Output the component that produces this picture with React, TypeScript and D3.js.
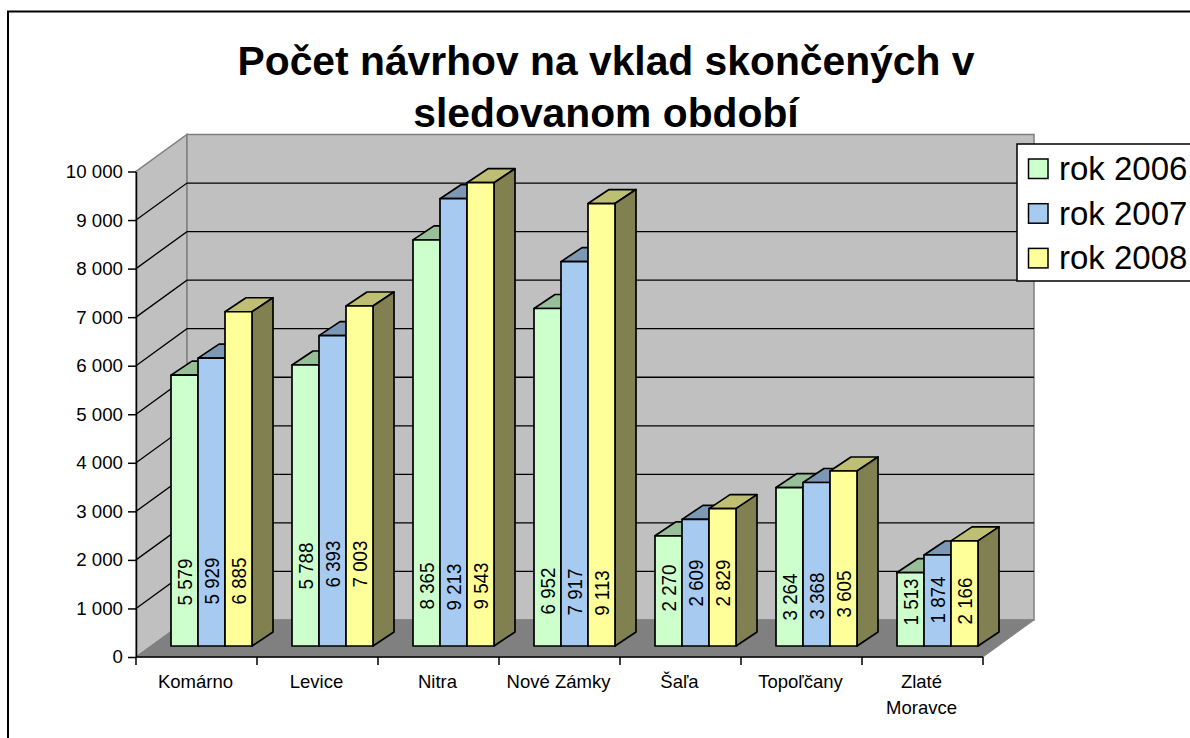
import { useEffect, useRef } from "react";
import * as d3 from "d3";

const categories = ["Komárno", "Levice", "Nitra", "Nové Zámky", "Šaľa", "Topoľčany", "Zlaté Moravce"];
const seriesNames = ["rok 2006", "rok 2007", "rok 2008"];
const rok2006 = [5579, 5788, 8365, 6952, 2270, 3264, 1513];
const rok2007 = [5929, 6393, 9213, 7917, 2609, 3368, 1874];
const rok2008 = [6885, 7003, 9543, 9113, 2829, 3605, 2166];
const seriesValues = [rok2006, rok2007, rok2008];
const yTicks = [0, 1000, 2000, 3000, 4000, 5000, 6000, 7000, 8000, 9000, 10000];
const titleLines = ["Počet návrhov na vklad skončených v", "sledovanom období"];

// the labels in the original were not centred in the bars, so their height above the bar foot is kept here
const labelLift = [
    [64, 65, 65],
    [80, 82, 82],
    [60, 59, 60],
    [55, 54, 53],
    [58, 63, 63],
    [49, 50, 52],
    [44, 46, 45],
];

const frontColors = ["#CCFFCC", "#A6CAF0", "#FFFF99"];
const topColors = ["#99BF99", "#7D98B4", "#BFBF73"];
const sideColors = ["#668066", "#536578", "#808050"];

const FONT = "'Liberation Sans', Arial, sans-serif";
const width = 1190;
const height = 738;

const left = 136;
const right = 983;
const zero = 657;
const top = 171.5;
const wallDx = 51;
const wallDy = -37;
// bars stand 15/-11 behind the front edge and are 21/-14 deep
const barDx = 15;
const barDy = -11;
const depthX = 21;
const depthY = -14;

const pts = (list: number[][]) => list.map((p) => p.join(",")).join(" ");

const App = () => {
    const svgRef = useRef<SVGSVGElement>(null);

    useEffect(() => {
        const svg = d3.select(svgRef.current);
        svg.selectAll("*").remove();

        const x = d3.scaleBand<string>().domain(categories).range([left, right]);
        const inner = d3.scaleBand<string>().domain(seriesNames).range([20, 101]);
        const y = d3.scaleLinear().domain([0, 10000]).range([zero, top]);
        const h = (v: number) => y(0) - y(v);

        const locale = d3.formatLocale({ decimal: ",", thousands: " ", grouping: [3], currency: ["", ""] });
        const fmt = locale.format(",d");

        // chart frame, runs off the picture at right and bottom
        svg.append("rect")
            .attr("x", 8)
            .attr("y", 11.5)
            .attr("width", width + 20)
            .attr("height", height + 20)
            .attr("fill", "#fff")
            .attr("stroke", "#000")
            .attr("stroke-width", 2);

        // title
        svg.append("g")
            .selectAll("text")
            .data(titleLines)
            .join("text")
            .attr("x", 606)
            .attr("y", (d, i) => 75 + i * 51.5)
            .attr("text-anchor", "middle")
            .style("font-family", FONT)
            .style("font-weight", "bold")
            .style("font-size", "40.8px")
            .text((d) => d);

        // walls and floor
        svg.append("polygon")
            .attr("points", pts([[left, zero], [left + wallDx, zero + wallDy], [left + wallDx, top + wallDy], [left, top]]))
            .attr("fill", "#C0C0C0")
            .attr("stroke", "#808080")
            .attr("stroke-width", 1.5);
        svg.append("polygon")
            .attr("points", pts([[left + wallDx, zero + wallDy], [right + wallDx, zero + wallDy], [right + wallDx, top + wallDy], [left + wallDx, top + wallDy]]))
            .attr("fill", "#C0C0C0")
            .attr("stroke", "#808080")
            .attr("stroke-width", 1.5);
        svg.append("polygon")
            .attr("points", pts([[left, zero], [right, zero], [right + wallDx, zero + wallDy], [left + wallDx, zero + wallDy]]))
            .attr("fill", "#808080")
            .attr("stroke", "#808080")
            .attr("stroke-width", 1);

        // gridlines across both walls
        svg.append("g")
            .selectAll("polyline")
            .data(yTicks.filter((t) => t > 0 && t < 10000))
            .join("polyline")
            .attr("points", (t) => pts([[left, y(t)], [left + wallDx, y(t) + wallDy], [right + wallDx, y(t) + wallDy]]))
            .attr("fill", "none")
            .attr("stroke", "#000")
            .attr("stroke-width", 1.3);

        // bars
        const foot = zero + barDy;
        categories.forEach((cat, c) => {
            const g = svg.append("g").attr("transform", `translate(${x(cat)! + barDx},${foot})`);
            const bw = inner.bandwidth();
            seriesNames.forEach((name, s) => {
                const v = seriesValues[s][c];
                const x0 = inner(name)!;
                const x1 = x0 + bw;
                const t = -h(v);
                const bar = g.append("g").attr("stroke", "#000").attr("stroke-width", 1.7).attr("stroke-linejoin", "round");
                bar.append("polygon")
                    .attr("points", pts([[x0, t], [x1, t], [x1 + depthX, t + depthY], [x0 + depthX, t + depthY]]))
                    .attr("fill", topColors[s]);
                bar.append("polygon")
                    .attr("points", pts([[x1, 0], [x1, t], [x1 + depthX, t + depthY], [x1 + depthX, depthY]]))
                    .attr("fill", sideColors[s]);
                bar.append("rect")
                    .attr("x", x0)
                    .attr("y", t)
                    .attr("width", bw)
                    .attr("height", -t)
                    .attr("fill", frontColors[s]);
            });
            // labels go on last, so the next bar cannot cover them
            seriesNames.forEach((name, s) => {
                const cx = inner(name)! + inner.bandwidth() / 2;
                g.append("text")
                    .attr("transform", `translate(${cx},${-labelLift[c][s]}) rotate(-90) scale(0.94,1)`)
                    .attr("text-anchor", "middle")
                    .attr("dy", "0.36em")
                    .style("font-family", FONT)
                    .style("font-size", "20px")
                    .text(fmt(seriesValues[s][c]));
            });
        });

        // y axis
        const yAxis = svg.append("g")
            .attr("transform", `translate(${left},0)`)
            .call(d3.axisLeft(y).tickValues(yTicks).tickFormat((d) => fmt(d as number)).tickSize(8).tickSizeOuter(0).tickPadding(5));
        yAxis.selectAll("line, path").attr("stroke", "#000").attr("stroke-width", 1.5);
        yAxis.selectAll("text").style("font-family", FONT).style("font-size", "18.7px").attr("fill", "#000");

        // x axis, ticks sit between the categories
        svg.append("line")
            .attr("x1", left)
            .attr("x2", right)
            .attr("y1", zero)
            .attr("y2", zero)
            .attr("stroke", "#000")
            .attr("stroke-width", 1.5);
        svg.append("g")
            .selectAll("line")
            .data([...categories.map((c) => x(c)!), right])
            .join("line")
            .attr("x1", (d) => d)
            .attr("x2", (d) => d)
            .attr("y1", zero)
            .attr("y2", zero + 8)
            .attr("stroke", "#000")
            .attr("stroke-width", 1.5);

        const catLabels = svg.append("g")
            .selectAll("text")
            .data(categories)
            .join("text")
            .attr("text-anchor", "middle")
            .style("font-family", FONT)
            .style("font-size", "18.5px");
        catLabels.each(function (d) {
            const cx = x(d)! + x.bandwidth() / 2 - 1;
            const lines = d === "Zlaté Moravce" ? d.split(" ") : [d];
            d3.select(this)
                .selectAll("tspan")
                .data(lines)
                .join("tspan")
                .attr("x", cx)
                .attr("y", (l, i) => 688 + i * 26)
                .text((l) => l);
        });

        // legend
        const legend = svg.append("g");
        legend.append("rect")
            .attr("x", 1017)
            .attr("y", 144)
            .attr("width", 200)
            .attr("height", 137)
            .attr("fill", "#fff")
            .attr("stroke", "#000")
            .attr("stroke-width", 1.5);
        seriesNames.forEach((name, s) => {
            legend.append("rect")
                .attr("x", 1028.5)
                .attr("y", 159 + s * 44.7)
                .attr("width", 19.5)
                .attr("height", 19.5)
                .attr("fill", frontColors[s])
                .attr("stroke", "#000")
                .attr("stroke-width", 1.5);
            legend.append("text")
                .attr("x", 1059)
                .attr("y", 180 + s * 44.7)
                .style("font-family", FONT)
                .style("font-size", "33px")
                .text(name);
        });
    }, []);

    return (
        <svg
            ref={svgRef}
            width={width}
            height={height}
            style={{ position: "absolute", left: 0, top: 0, background: "#fff" }}
        />
    );
};

export default App;
